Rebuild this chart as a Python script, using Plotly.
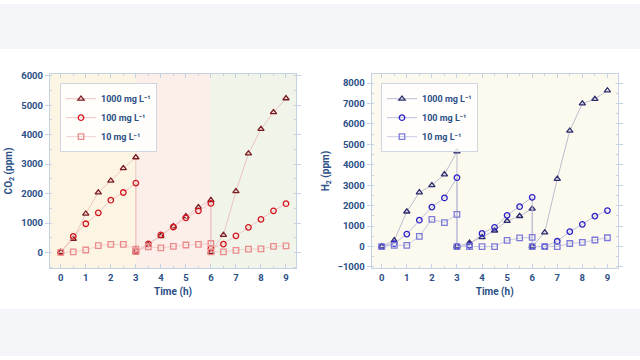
import plotly.graph_objects as go

# ---------------- data ----------------
time = [0, 0.5, 1, 1.5, 2, 2.5, 3, 3, 3.5, 4, 4.5, 5, 5.5, 6, 6, 6.5, 7, 7.5, 8, 8.5, 9]
series_names = ["1000 mg L⁻¹", "100 mg L⁻¹", "10 mg L⁻¹"]

co2_1000 = [20, 460, 1320, 2040, 2440, 2860, 3230, 30, 260, 560, 890, 1230, 1540, 1780, 20, 600, 2080, 3360, 4190, 4760, 5230]
co2_100 = [20, 550, 980, 1350, 1780, 2040, 2360, 60, 300, 600, 870, 1180, 1420, 1670, 140, 290, 570, 860, 1130, 1420, 1660]
co2_10 = [10, 30, 90, 240, 280, 280, 120, 40, 200, 160, 210, 260, 280, 310, 30, 30, 80, 120, 130, 210, 230]

h2_1000 = [0, 300, 1710, 2650, 3000, 3530, 4650, 0, 180, 460, 780, 1250, 1490, 1850, 0, 690, 3310, 5670, 7000, 7220, 7640]
h2_100 = [0, 140, 610, 1290, 1930, 2380, 3370, 0, 60, 640, 940, 1530, 1950, 2410, 0, 0, 260, 730, 1090, 1490, 1760]
h2_10 = [0, 60, 60, 500, 1330, 1170, 1570, 0, 0, 0, 0, 300, 420, 450, 0, 0, 0, 150, 200, 320, 430]

x_ticks = [0, 1, 2, 3, 4, 5, 6, 7, 8, 9]

# ---------------- styles ----------------
TXT = "#2b4f86"
FONT = "Roboto"
AX = "#c5d2e3"

fig = go.Figure()

left_markers = [("triangle-up-open", "#7a1c22"), ("circle-open", "#d3141c"), ("square-open", "#ea8c8c")]
left_lines = ["#ebc4c4", "#efc6c6", "#f3d0d0"]
right_markers = [("triangle-up-open", "#2c2c6e"), ("circle-open", "#2a20c9"), ("square-open", "#7c7cd8")]
right_lines = ["#bdbdd0", "#bdbdd8", "#c9c9e2"]

for i, ys in enumerate([co2_1000, co2_100, co2_10]):
    sym, col = left_markers[i]
    fig.add_trace(go.Scatter(
        x=time, y=ys, mode="lines+markers", name=series_names[i],
        xaxis="x", yaxis="y", legend="legend",
        line=dict(color=left_lines[i], width=1),
        marker=dict(symbol=sym, size=5.5, color=col, line=dict(color=col, width=1.3)),
    ))

for i, ys in enumerate([h2_1000, h2_100, h2_10]):
    sym, col = right_markers[i]
    fig.add_trace(go.Scatter(
        x=time, y=ys, mode="lines+markers", name=series_names[i],
        xaxis="x2", yaxis="y2", legend="legend2",
        line=dict(color=right_lines[i], width=1),
        marker=dict(symbol=sym, size=5.5, color=col, line=dict(color=col, width=1.3)),
    ))

W, H = 640, 360
def px_x(p): return p / W
def px_y(p): return 1 - p / H

ydom = [px_y(270), px_y(71.5)]

def xaxis(dom, anchor, rng):
    return dict(
        domain=dom, anchor=anchor, range=rng, tickvals=x_ticks,
        showgrid=False, zeroline=False, showline=True, linecolor=AX, linewidth=1.2,
        mirror="allticks", ticks="inside", ticklen=4, tickcolor=AX,
        minor=dict(ticks="inside", ticklen=2, tickcolor=AX, dtick=0.5),
        tickfont=dict(family=FONT, size=9.5, color=TXT, weight="bold"),
        title=dict(text="Time (h)", font=dict(family=FONT, size=10, color=TXT, weight="bold"), standoff=6),
    )

def yaxis(anchor, rng, dtick, title):
    return dict(
        domain=ydom, anchor=anchor, range=rng, dtick=dtick, tick0=0,
        showgrid=False, zeroline=False, showline=True, linecolor=AX, linewidth=1.2,
        mirror="allticks", ticks="outside", ticklen=4, tickcolor=AX,
        minor=dict(ticks="inside", ticklen=2, tickcolor=AX, dtick=dtick / 2),
        tickfont=dict(family=FONT, size=9.5, color=TXT, weight="bold"),
        title=dict(text=title, font=dict(family=FONT, size=10, color=TXT, weight="bold"), standoff=6),
    )

legend_style = dict(
    bgcolor="rgba(255,255,255,0.85)", bordercolor="#cfd6e0", borderwidth=1,
    font=dict(family=FONT, size=9, color=TXT, weight="bold"),
    itemwidth=30, tracegroupgap=0, xanchor="left", yanchor="top",
)

shapes = [
    dict(type="rect", xref="x", yref="y domain", x0=-0.43, x1=3, y0=0, y1=1,
         fillcolor="#fdf5e4", line_width=0, layer="below"),
    dict(type="rect", xref="x", yref="y domain", x0=3, x1=6, y0=0, y1=1,
         fillcolor="#fcefea", line_width=0, layer="below"),
    dict(type="rect", xref="x", yref="y domain", x0=6, x1=9.4, y0=0, y1=1,
         fillcolor="#f0f4e9", line_width=0, layer="below"),
    dict(type="rect", xref="x2", yref="y2 domain", x0=-0.4, x1=9.41, y0=0, y1=1,
         fillcolor="#fcf9ee", line_width=0, layer="below"),
    dict(type="rect", xref="paper", yref="paper", x0=0, x1=1, y0=px_y(46), y1=1,
         fillcolor="#f3f5f8", line_width=0, layer="below"),
    dict(type="rect", xref="paper", yref="paper", x0=0, x1=1, y0=0, y1=px_y(312),
         fillcolor="#f3f5f8", line_width=0, layer="below"),
]

fig.update_layout(
    width=W, height=H, margin=dict(l=0, r=0, t=0, b=0),
    paper_bgcolor="white", plot_bgcolor="rgba(0,0,0,0)",
    showlegend=True,
    xaxis=xaxis([px_x(50), px_x(296)], "y", [-0.43, 9.4]),
    yaxis=yaxis("x", [-520, 6060], 1000, "CO<sub>2</sub> (ppm)"),
    xaxis2=xaxis([px_x(371.7), px_x(617.7)], "y2", [-0.4, 9.41]),
    yaxis2=yaxis("x2", [-1050, 8450], 1000, "H<sub>2</sub> (ppm)"),
    legend=dict(x=px_x(60), y=px_y(81), **legend_style),
    legend2=dict(x=px_x(381), y=px_y(81), **legend_style),
    shapes=shapes,
)

fig.write_html("out.html")
